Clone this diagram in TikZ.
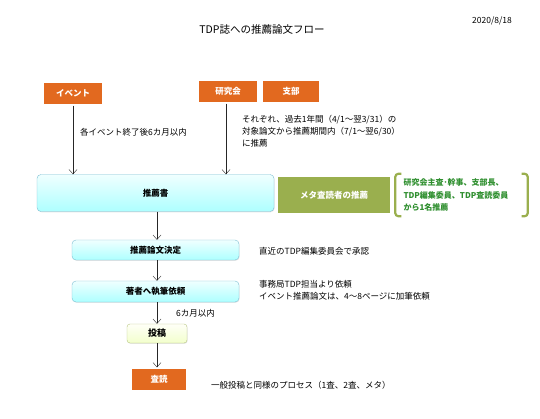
\documentclass[tikz,border=0pt]{standalone}
\usepackage{fontspec}
\setmainfont{Noto Sans CJK JP}
\usepackage{tikz}
\usetikzlibrary{arrows.meta}
\usetikzlibrary{shadows}
\usepackage{xcolor}
\definecolor{evorange}{HTML}{E2691F}
\definecolor{metaolive}{HTML}{9AAF4E}
\definecolor{notegreen}{HTML}{2F8F2F}
\definecolor{boxblue}{HTML}{7DBFD3}

\begin{document}
\begin{tikzpicture}[x=1pt, y=-1pt]
        % ================= スタイル定義 =================
        \tikzset{
            % オレンジの箱 (イベント・研究会・支部・査読)
            orangebox/.style={fill=evorange, draw=white, line width=1.2pt, text=white, font=\fontsize{8.5}{10}\selectfont\bfseries,
                minimum height=23pt, inner sep=0pt, drop shadow={opacity=0.25, shadow xshift=0.8pt, shadow yshift=-1pt}},
            % 水色の箱 (推薦書など)
            bluebox/.style={rounded corners=4pt, draw=boxblue, thin, top color=cyan!6, bottom color=cyan!32!white,
                font=\fontsize{8.5}{10}\selectfont\bfseries, inner sep=0pt,
                drop shadow={opacity=0.2, shadow xshift=0.6pt, shadow yshift=-0.8pt}},
            % 薄緑の箱 (投稿)
            greenbox/.style={rounded corners=3pt, draw=metaolive!70, thin, top color=green!4!yellow!3, bottom color=green!25!yellow!20,
                font=\fontsize{9}{10}\selectfont\bfseries, inner sep=0pt,
                drop shadow={opacity=0.2, shadow xshift=0.6pt, shadow yshift=-0.8pt}},
            % 説明文
            note/.style={anchor=west, align=left, inner sep=0pt, font=\fontsize{8.5}{12.2}\selectfont},
            % 矢印
            flow/.style={thin, black!85, -{Straight Barb[length=4.5pt, width=8pt]}},
            % 括弧
            paren/.style={metaolive, line width=2.2pt, rounded corners=3pt}
        }
        \useasboundingbox (0,0) rectangle (540,419);

        % ================= 見出し =================
        \node[font=\fontsize{10.5}{12}\selectfont] (title) at (262,30) {TDP誌への推薦論文フロー};
        \node[font=\fontsize{8.5}{10}\selectfont, anchor=west, inner sep=0pt] (date) at (472,21) {2020/8/18};

        % ================= 推薦元 =================
        \node[orangebox, minimum width=60pt] (event) at (73,93.5) {イベント};
        \node[orangebox, minimum width=60pt] (kenkyu) at (228,91.5) {研究会};
        \node[orangebox, minimum width=58pt] (shibu) at (291,91.5) {支部};

        \node[note] (eventnote) at (80,132) {各イベント終了後6カ月以内};
        \node[note, anchor=north west] (kenkyunote) at (242,115) {それぞれ、過去1年間（4/1～翌3/31）の\\対象論文から推薦期間内（7/1～翌6/30）\\に推薦};

        % ================= 推薦書 =================
        \node[bluebox, minimum width=237pt, minimum height=37pt] (suisen) at (155.5,193) {推薦書};
        \node[orangebox, fill=metaolive, minimum width=114pt, minimum height=38pt] (meta) at (334,195) {メタ査読者の推薦};

        % 括弧つきの注記
        \node[note, anchor=center, text width=119pt, minimum height=42pt, text=notegreen,
            font=\fontsize{8}{12.2}\selectfont\bfseries] (metanote) at (463,195) {研究会主査･幹事、支部長、\\TDP編集委員、TDP査読委員\\から1名推薦};
        \draw[paren] ([xshift=-2pt]metanote.north west) -- ([xshift=-8pt]metanote.north west)
            -- ([xshift=-8pt]metanote.south west) -- ([xshift=-2pt]metanote.south west);
        \draw[paren] ([xshift=-1pt]metanote.north east) -- ([xshift=5pt]metanote.north east)
            -- ([xshift=5pt]metanote.south east) -- ([xshift=-1pt]metanote.south east);

        \draw[flow] (event) -- (event |- suisen.north);
        \draw[flow] (kenkyu.south -| 226,0) -- (suisen.north -| 226,0);

        % ================= 決定から査読まで =================
        \node[bluebox, minimum width=167pt, minimum height=20pt] (kettei) at (155.5,250) {推薦論文決定};
        \node[note] (ketteinote) at (259,251) {直近のTDP編集委員会で承認};

        \node[bluebox, minimum width=167pt, minimum height=21pt] (irai) at (155.5,291.5) {著者へ執筆依頼};
        \node[note, anchor=north west] (irainote) at (259,280) {事務局TDP担当より依頼\\イベント推薦論文は、4～8ページに加筆依頼};

        \node[greenbox, minimum width=60pt, minimum height=19pt] (toko) at (157,333.5) {投稿};
        \node[orangebox, minimum width=56pt, minimum height=23pt] (sadoku) at (159,379.5) {査読};
        \node[note] (sadokunote) at (211,385) {一般投稿と同様のプロセス（1査、2査、メタ）};

        \draw[flow] (suisen.south -| 157,0) -- (kettei.north -| 157,0);
        \draw[flow] (kettei.south -| 157,0) -- (irai.north -| 157,0);
        \draw[flow] (irai.south -| 157,0) -- (toko.north -| 157,0);
        \node[note] (rokkagetsu) at (176,313) {6カ月以内};
        \draw[flow] (toko) -- (toko |- sadoku.north);

    \end{tikzpicture}
\end{document}
